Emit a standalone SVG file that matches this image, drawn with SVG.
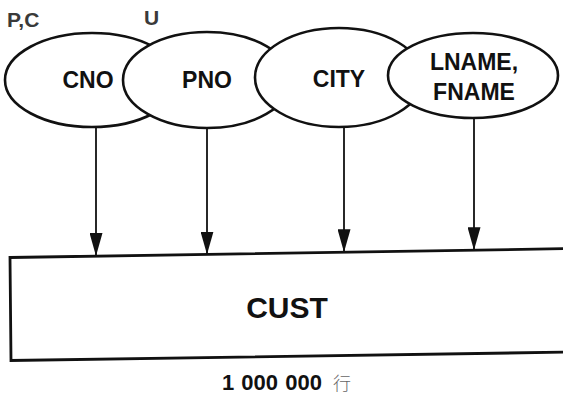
<svg xmlns="http://www.w3.org/2000/svg" width="563" height="396" viewBox="0 0 563 396">
  <style>
    .attr { fill: #fff; stroke: #111; stroke-width: 2.6; }
    .lbl { font-family: "Liberation Sans", Arial, sans-serif; font-weight: bold; font-size: 23px; fill: #111; text-anchor: middle; }
    .tag { font-family: "Liberation Sans", Arial, sans-serif; font-weight: bold; font-size: 21px; fill: #3a3a3a; }
    .conn { stroke: #111; stroke-width: 1.8; fill: none; marker-end: url(#head); }
  </style>
  <defs>
    <marker id="head" viewBox="0 0 23 13" refX="23" refY="6.5" markerWidth="23" markerHeight="13" markerUnits="userSpaceOnUse" orient="auto">
      <path d="M0,0 L23,6.5 L0,13 Z" fill="#111"/>
    </marker>
  </defs>
  <rect width="563" height="396" fill="#fff"/>

  <!-- index labels -->
  <text class="tag" x="7" y="27">P,C</text>
  <text class="tag" x="144" y="25">U</text>

  <!-- attribute nodes, later ones overlap earlier ones -->
  <g id="cno">
    <ellipse class="attr" cx="92" cy="80" rx="87" ry="47"/>
    <text class="lbl" x="88" y="88">CNO</text>
  </g>
  <g id="pno">
    <ellipse class="attr" cx="207" cy="80" rx="84" ry="48"/>
    <text class="lbl" x="207" y="88">PNO</text>
  </g>
  <g id="city">
    <ellipse class="attr" cx="339" cy="77.5" rx="84" ry="49.5"/>
    <text class="lbl" x="339" y="87">CITY</text>
  </g>
  <g id="lname-fname">
    <ellipse class="attr" cx="473" cy="75.5" rx="85" ry="42.5"/>
    <text class="lbl" x="474" y="70">LNAME,</text>
    <text class="lbl" x="474" y="100">FNAME</text>
  </g>

  <!-- connectors from attributes to the table -->
  <g id="connectors">
    <line class="conn" x1="96" y1="128" x2="96" y2="256"/>
    <line class="conn" x1="207" y1="128" x2="207" y2="254.5"/>
    <line class="conn" x1="344" y1="127" x2="344" y2="252.3"/>
    <line class="conn" x1="474" y1="118" x2="474" y2="250.2"/>
  </g>

  <!-- table -->
  <g id="cust">
    <polygon points="10,257.5 575,248.5 575,352 11,360.5" fill="#fff" stroke="#111" stroke-width="2.8"/>
    <text class="lbl" x="287" y="318" style="font-size:30px">CUST</text>
  </g>

  <!-- row count -->
  <text x="222" y="390" style="font-family:'Liberation Sans',Arial,sans-serif;font-size:22px;font-weight:bold;fill:#111;word-spacing:1px">1 000 000</text>
  <text x="333" y="390" style="font-family:'Noto Sans CJK SC',sans-serif;font-size:18px;font-weight:300;fill:#666">行</text>
</svg>
